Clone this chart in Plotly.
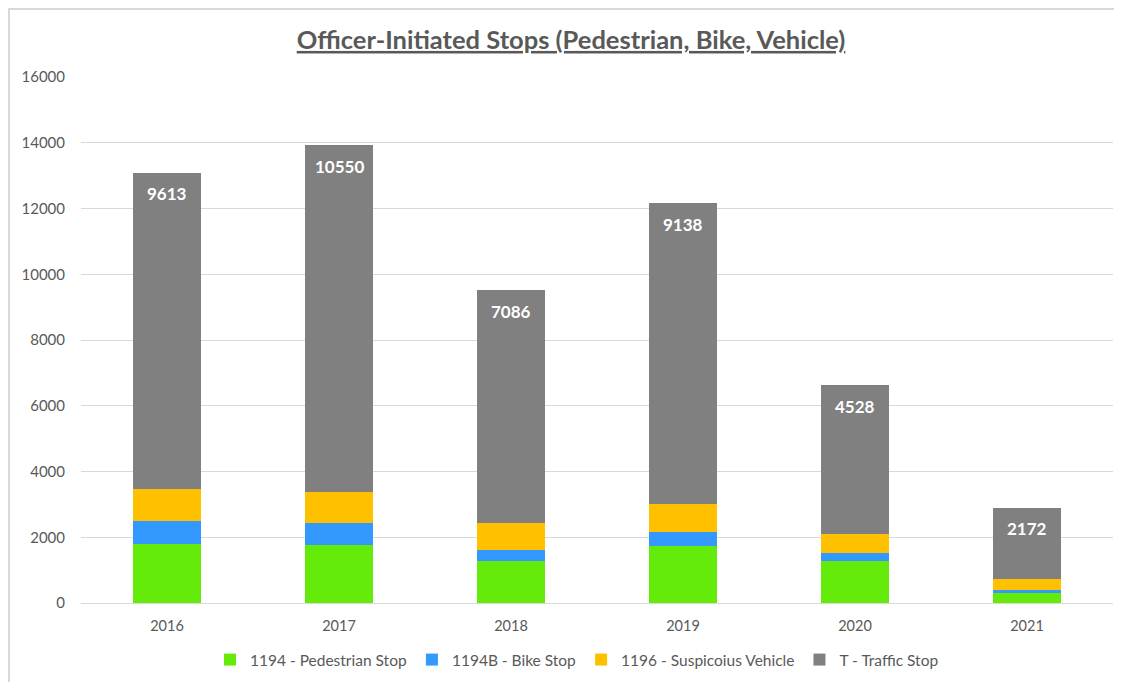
import plotly.graph_objects as go

years = ["2016", "2017", "2018", "2019", "2020", "2021"]
pedestrian = [1810, 1750, 1280, 1720, 1290, 315]
bike = [685, 695, 335, 450, 225, 90]
suspicious = [985, 925, 805, 855, 580, 315]
traffic = [9613, 10550, 7086, 9138, 4528, 2172]

series = [
    ("1194 - Pedestrian Stop", pedestrian, "#64EB0A"),
    ("1194B - Bike Stop", bike, "#3399FF"),
    ("1196 - Suspicoius Vehicle", suspicious, "#FFC000"),
    ("T - Traffic Stop", traffic, "#808080"),
]

fig = go.Figure()
for name, vals, col in series:
    fig.add_trace(go.Bar(x=years, y=vals, name=name, marker_color=col,
                         marker_line_width=0))

# white labels near the top of the traffic segment
# (x given as category index: "2016" would be read as index 2016)
totals = [a + b + c + d for a, b, c, d in zip(pedestrian, bike, suspicious, traffic)]
for i, (tot, t) in enumerate(zip(totals, traffic)):
    fig.add_annotation(x=i, y=tot, text="<b>%d</b>" % t, showarrow=False,
                       yanchor="middle", yshift=-21,
                       font=dict(family="Lato", size=17, color="white"))

# page body has an 8px margin, so the figure is drawn 8px smaller
W, H = 1114, 674
L, R, T, B = 73, 9, 69, 79
pw, ph = W - L - R, H - T - B

fig.update_layout(
    barmode="stack",
    bargap=0.6,
    width=W, height=H,
    margin=dict(l=L, r=R, t=T, b=B, autoexpand=False),
    paper_bgcolor="white", plot_bgcolor="white",
    font=dict(family="Lato", color="#595959", size=14),
    title=dict(text="<b><u>Officer-Initiated Stops (Pedestrian, Bike, Vehicle)</u></b>",
               x=(563 - L) / pw, xanchor="center", y=1 - 32 / H, yanchor="middle",
               xref="paper",
               font=dict(family="Lato", size=25.5, color="#595959")),
    legend=dict(orientation="h", x=(569 - L) / pw, xanchor="center",
                y=(T + ph - 652) / ph, yanchor="middle",
                font=dict(size=15.5, color="#595959"), traceorder="normal",
                itemwidth=30),
    showlegend=True,
)
fig.update_yaxes(range=[0, 16000], dtick=2000, tickformat="d", showgrid=True,
                 gridcolor="#D9D9D9", gridwidth=1, zeroline=False, ticks="",
                 tickfont=dict(size=15), ticklabelstandoff=15)
fig.update_xaxes(type="category", range=[-0.5, 5.5], showline=True,
                 linecolor="#D9D9D9", linewidth=1, ticks="", tickfont=dict(size=14.5),
                 ticklabelstandoff=10)

# chart border like the spreadsheet chart frame
fig.add_shape(type="rect", xref="paper", yref="paper",
              x0=(1 - L) / pw, x1=(W + 10 - L) / pw,
              y0=(T + ph - H - 10) / ph, y1=(T + ph - 1) / ph,
              line=dict(color="#D9D9D9", width=2))

fig.write_html("out.html")
